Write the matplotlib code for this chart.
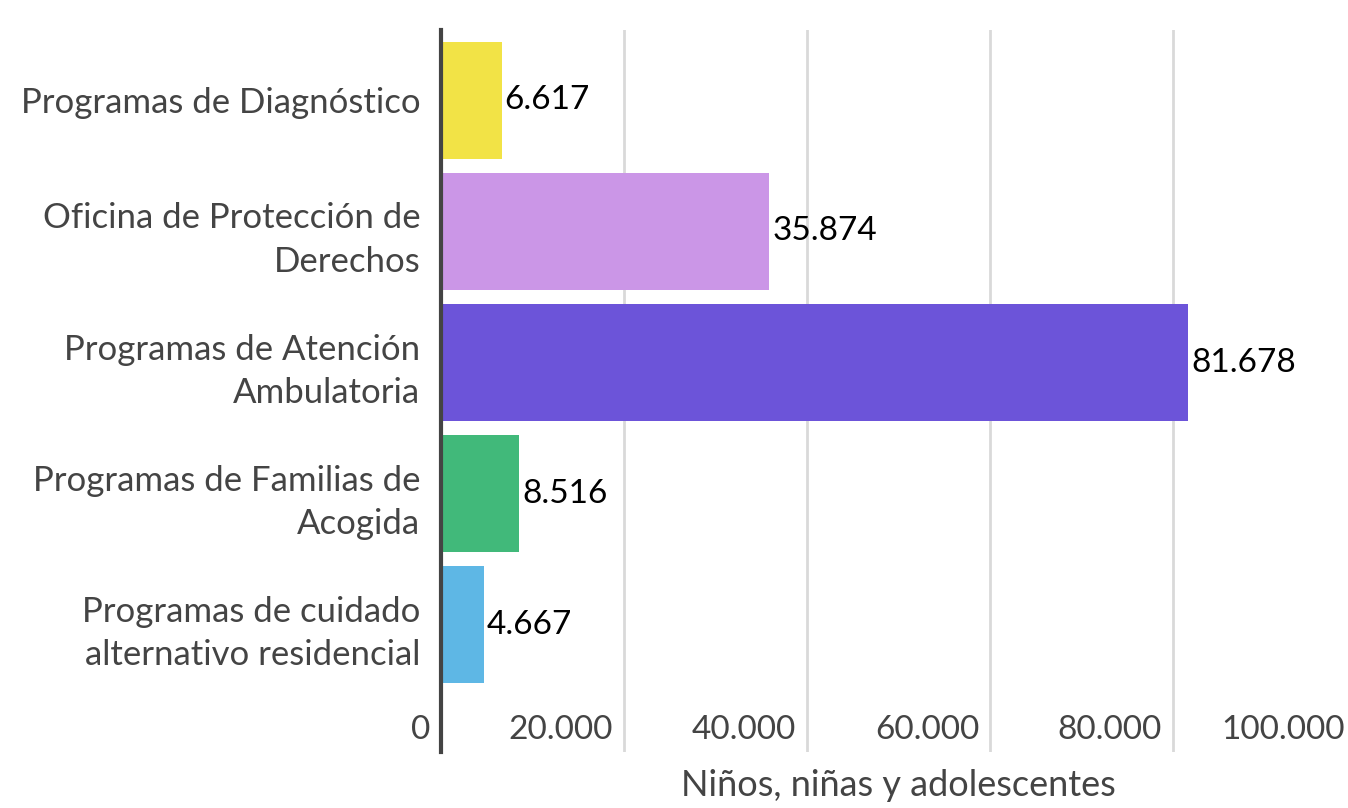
import matplotlib.pyplot as plt
from matplotlib.transforms import blended_transform_factory

categories = [
    "Programas de Diagnóstico",
    "Oficina de Protección de\nDerechos",
    "Programas de Atención\nAmbulatoria",
    "Programas de Familias de\nAcogida",
    "Programas de cuidado\nalternativo residencial",
]
values = [6617, 35874, 81678, 8516, 4667]
colors = ["#F2E346", "#CB96E7", "#6C54D9", "#41B97A", "#5EB7E5"]
ticks = [0, 20000, 40000, 60000, 80000, 100000]


def fmt(v):
    return f"{v:,}".replace(",", ".")


plt.rcParams['font.family'] = ['Lato', 'DejaVu Sans']

fig = plt.figure(figsize=(13.48, 8.08), dpi=100)
ax = fig.add_axes([441 / 1348, 1 - 752 / 808, 915 / 1348, 722 / 808])

pos = list(range(len(categories)))
ax.barh(pos, values, height=0.89, color=colors, zorder=2)

ax.set_xlim(0, 100000)
ax.set_ylim(len(categories) - 1 + 0.973, -0.538)

for x in ticks[1:]:
    ax.axvline(x, color="#d9d9d9", linewidth=2, zorder=1)

for spine in ["top", "right", "bottom"]:
    ax.spines[spine].set_visible(False)
ax.spines["left"].set_color("#444444")
ax.spines["left"].set_linewidth(3)
ax.spines["left"].set_zorder(3)

ax.set_xticks([])
ax.set_yticks(pos)
ax.set_yticklabels(categories, fontsize=25, color="#444444", linespacing=1.45)
ax.tick_params(axis="y", length=0, pad=15)

for p, v in zip(pos, values):
    ax.text(v + 350, p, fmt(v), va="center", ha="left", fontsize=24, color="black", zorder=4)

tr = blended_transform_factory(ax.transData, ax.transAxes)
for t in ticks:
    ax.text(t - 1200, 0.03, fmt(t), transform=tr, ha="right", va="center",
            fontsize=24, color="#444444")

ax.set_xlabel("Niños, niñas y adolescentes", fontsize=26, color="#444444", labelpad=12)

fig.savefig("out.png", dpi=100)
